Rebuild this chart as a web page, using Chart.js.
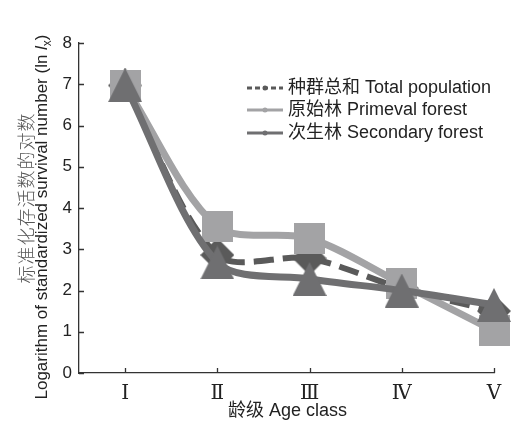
<!DOCTYPE html>
<html>
<head>
<meta charset="utf-8">
<script src="https://cdn.jsdelivr.net/npm/chart.js@4/dist/chart.umd.min.js"></script>
<style>
  html, body { margin: 0; padding: 0; background: #fff; }
  canvas { display: block; }
</style>
</head>
<body>
<canvas id="myChart" width="511" height="424"></canvas>
<script>
// age classes and tick labels
var ageX = [1, 2, 3, 4, 5];
var ageLabels = ["Ⅰ", "Ⅱ", "Ⅲ", "Ⅳ", "Ⅴ"];
var yTicks = [0, 1, 2, 3, 4, 5, 6, 7, 8];

// ln(lx) values
var totalPop = [6.97, 2.86, 2.78, 2.05, 1.5];
var primeval = [6.96, 3.55, 3.27, 2.16, 1.02];
var secondary = [6.98, 2.68, 2.28, 2.0, 1.65];

var seriesNames = ["种群总和 Total population", "原始林 Primeval forest", "次生林 Secondary forest"];
var xTitle = "龄级 Age class";
var yTitleZh = "标准化存活数的对数";
var yTitleEn = "Logarithm of standardized survival number (ln ";

var SANS = "'Liberation Sans', 'Noto Sans CJK SC', sans-serif";
var cTotal = "#5a5a5a", cPrim = "#a3a3a5", cSec = "#6f6f71";

function marker(shape, size, color) {
    var c = document.createElement("canvas");
    c.width = size; c.height = size;
    var g = c.getContext("2d");
    g.fillStyle = color;
    g.beginPath();
    if (shape === "tri") {
        g.moveTo(size / 2, 0); g.lineTo(size, size); g.lineTo(0, size);
    } else if (shape === "diamond") {
        g.moveTo(size / 2, 0); g.lineTo(size, size / 2); g.lineTo(size / 2, size); g.lineTo(0, size / 2);
    } else {
        g.rect(0, 0, size, size);
    }
    g.closePath();
    g.fill();
    return c;
}

function pts(arr) {
    return arr.map(function(v, i) { return { x: ageX[i], y: v }; });
}

var extras = {
    id: "extras",
    afterDraw: function(chart) {
        var ctx = chart.ctx;
        var xs = chart.scales.x, ys = chart.scales.y;
        var a = chart.chartArea;
        ctx.save();
        // inward tick marks
        ctx.strokeStyle = "#333";
        ctx.lineWidth = 1.3;
        ctx.beginPath();
        yTicks.forEach(function(v) {
            var y = Math.round(ys.getPixelForValue(v)) + 0.5;
            ctx.moveTo(a.left, y); ctx.lineTo(a.left + 5, y);
        });
        ageX.forEach(function(v) {
            var x = Math.round(xs.getPixelForValue(v)) + 0.5;
            ctx.moveTo(x, a.bottom); ctx.lineTo(x, a.bottom - 5);
        });
        ctx.stroke();

        // x title
        ctx.fillStyle = "#222";
        ctx.font = "18px " + SANS;
        ctx.textAlign = "center";
        ctx.textBaseline = "middle";
        ctx.fillText(xTitle, (a.left + a.right) / 2 + 1, 411);

        // y title, two lines
        ctx.save();
        ctx.translate(33, 198);
        ctx.rotate(-Math.PI / 2);
        ctx.font = "300 18px 'Noto Sans CJK SC', sans-serif";
        ctx.letterSpacing = "1px";
        ctx.fillStyle = "#555";
        ctx.textAlign = "center";
        ctx.textBaseline = "alphabetic";
        ctx.fillText(yTitleZh, 0, 0);
        ctx.restore();

        ctx.save();
        ctx.translate(47, 217);
        ctx.rotate(-Math.PI / 2);
        ctx.fillStyle = "#222";
        ctx.textAlign = "left";
        ctx.textBaseline = "alphabetic";
        var parts = [
            { t: yTitleEn, f: "17px " + SANS, dy: 0 },
            { t: "l", f: "italic 17px " + SANS, dy: 0 },
            { t: "x", f: "12px " + SANS, dy: 4 },
            { t: ")", f: "17px " + SANS, dy: 0 }
        ];
        var w = 0;
        parts.forEach(function(p) { ctx.font = p.f; p.w = ctx.measureText(p.t).width; w += p.w; });
        var px = -w / 2;
        parts.forEach(function(p) { ctx.font = p.f; ctx.fillText(p.t, px, p.dy); px += p.w; });
        ctx.restore();

        // legend
        var rows = [
            { c: cTotal, dash: [5, 3] },
            { c: cPrim, dash: [] },
            { c: cSec, dash: [] }
        ];
        var rowY = [88, 110, 133];
        rows.forEach(function(r, i) {
            var y = rowY[i];
            ctx.strokeStyle = r.c;
            ctx.lineWidth = 3;
            ctx.setLineDash(r.dash);
            ctx.beginPath();
            ctx.moveTo(247, y); ctx.lineTo(283, y);
            ctx.stroke();
            ctx.setLineDash([]);
            ctx.fillStyle = r.c;
            ctx.beginPath();
            ctx.arc(265, y, 2.5, 0, Math.PI * 2);
            ctx.fill();
            ctx.fillStyle = "#222";
            ctx.font = "18px " + SANS;
            ctx.textAlign = "left";
            ctx.textBaseline = "middle";
            ctx.fillText(seriesNames[i], 288, y);
        });
        ctx.restore();
    }
};

document.addEventListener("DOMContentLoaded", function() {
    var ctx = document.getElementById("myChart").getContext("2d");
    new Chart(ctx, {
        type: "line",
        data: {
            datasets: [{
                label: seriesNames[0],
                data: pts(totalPop),
                borderColor: cTotal,
                borderWidth: 6,
                borderDash: [20, 9],
                pointStyle: marker("diamond", 34, cTotal),
                tension: 0.3,
                order: 2,
                clip: false
            }, {
                label: seriesNames[1],
                data: pts(primeval),
                borderColor: cPrim,
                borderWidth: 7,
                pointStyle: marker("square", 31, cPrim),
                tension: 0.3,
                order: 1,
                clip: false
            }, {
                label: seriesNames[2],
                data: pts(secondary),
                borderColor: cSec,
                borderWidth: 7,
                pointStyle: marker("tri", 34, cSec),
                tension: 0.3,
                order: 0,
                clip: false
            }]
        },
        options: {
            responsive: false,
            animation: false,
            layout: { padding: { top: 43, right: 17, left: 0, bottom: 0 } },
            scales: {
                x: {
                    type: "linear",
                    min: 0.5,
                    max: 5,
                    afterBuildTicks: function(s) { s.ticks = ageX.map(function(v) { return { value: v }; }); },
                    afterFit: function(s) { s.height = 51; },
                    grid: { display: true, drawOnChartArea: false, drawTicks: false },
                    border: { color: "#333", width: 1.3 },
                    ticks: {
                        padding: 9,
                        color: "#222",
                        font: { family: "'Liberation Serif', 'DejaVu Serif', serif", size: 20 },
                        callback: function(v) { return ageLabels[ageX.indexOf(v)] || ""; }
                    }
                },
                y: {
                    min: 0,
                    max: 8,
                    afterFit: function(s) { s.width = 79; },
                    grid: { display: true, drawOnChartArea: false, drawTicks: false },
                    border: { color: "#333", width: 1.3 },
                    ticks: {
                        stepSize: 1,
                        padding: 7,
                        color: "#222",
                        font: { family: SANS, size: 17 }
                    }
                }
            },
            plugins: {
                legend: { display: false },
                tooltip: { enabled: false }
            }
        },
        plugins: [extras]
    });
});
</script>
</body>
</html>
